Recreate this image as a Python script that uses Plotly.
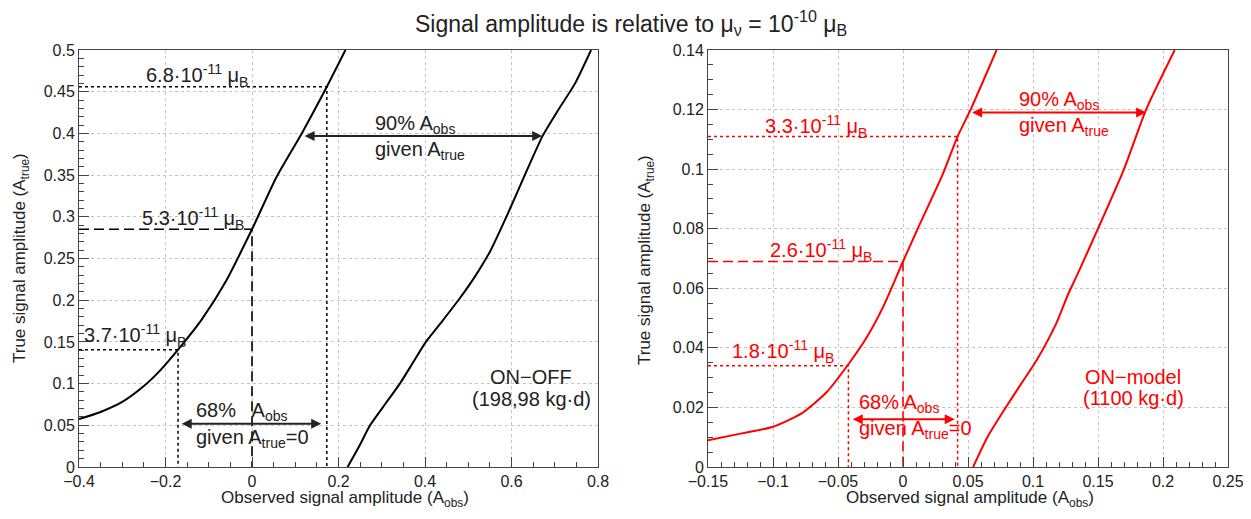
import plotly.graph_objects as go

FONT = "Liberation Sans, Arial, sans-serif"

# ---------------- data: ON-OFF (left panel, black) ----------------
onoff_lo_obs = [-0.4, -0.35, -0.3, -0.25, -0.21, -0.171, -0.116, -0.06, 0.0, 0.057, 0.115, 0.173, 0.216]
onoff_lo_true = [0.0574, 0.066, 0.078, 0.097, 0.117, 0.1406, 0.177, 0.223, 0.285, 0.348, 0.4, 0.456, 0.5]
onoff_hi_obs = [0.221, 0.25, 0.273, 0.31, 0.342, 0.372, 0.402, 0.44, 0.48, 0.515, 0.552, 0.59, 0.635, 0.672, 0.708, 0.747, 0.784]
onoff_hi_true = [0.0, 0.027, 0.05, 0.077, 0.1, 0.125, 0.15, 0.175, 0.202, 0.228, 0.26, 0.302, 0.355, 0.397, 0.428, 0.46, 0.5]
onoff_lim_true = [0.1406, 0.285, 0.456]
onoff_lim_obs = [-0.171, 0.0, 0.173]
onoff_lim_dash = ["dot", "10px,5px", "dot"]
onoff_lim_text = ["3.7·10<sup>-11</sup> μ<sub>B</sub>", "5.3·10<sup>-11</sup> μ<sub>B</sub>", "6.8·10<sup>-11</sup> μ<sub>B</sub>"]
onoff_lim_text_x = [-0.27, -0.136, -0.128]
onoff_lim_text_y = [0.158, 0.298, 0.47]
onoff_arrow90 = [0.118, 0.671, 0.397]   # x0, x1, y
onoff_arrow68 = [-0.166, 0.16, 0.052]

# ---------------- data: ON-model (right panel, red) ----------------
onmod_lo_obs = [-0.15, -0.125, -0.1, -0.078, -0.059, -0.042, -0.0275, -0.015, 0.0, 0.0107, 0.0306, 0.042, 0.052, 0.072]
onmod_lo_true = [0.009, 0.0112, 0.0135, 0.018, 0.025, 0.0345, 0.0438, 0.054, 0.069, 0.0794, 0.0983, 0.111, 0.12, 0.14]
onmod_hi_obs = [0.0539, 0.065, 0.079, 0.091, 0.103, 0.118, 0.127, 0.134, 0.15, 0.17, 0.187, 0.209]
onmod_hi_true = [0.0, 0.0101, 0.02, 0.028, 0.036, 0.0483, 0.058, 0.0645, 0.08, 0.1, 0.12, 0.14]
onmod_lim_true = [0.034, 0.069, 0.111]
onmod_lim_obs = [-0.042, 0.0, 0.042]
onmod_lim_dash = ["dot", "10px,5px", "dot"]
onmod_lim_text = ["1.8·10<sup>-11</sup> μ<sub>B</sub>", "2.6·10<sup>-11</sup> μ<sub>B</sub>", "3.3·10<sup>-11</sup> μ<sub>B</sub>"]
onmod_lim_text_x = [-0.092, -0.063, -0.067]
onmod_lim_text_y = [0.0388, 0.0727, 0.1143]
onmod_arrow90 = [0.052, 0.187, 0.119]
onmod_arrow68 = [-0.0398, 0.0398, 0.0160]

# page has an 8px body margin: draw in a figure 16px smaller, positions shifted by 8px
OFF = 8
W, H = 1251 - 2 * OFF, 519 - 2 * OFF
L1, R1 = 79, 598
L2, R2 = 708, 1228
TOP, BOT = 50, 467

def px(xp):
    return (xp - OFF) / W

def py(yp):
    return 1 - (yp - OFF) / H

fig = go.Figure()

def add_panel(xa, ya, color, lo_x, lo_y, hi_x, hi_y, lim_t, lim_o, lim_d, xmin):
    for xs, ys in ((lo_x, lo_y), (hi_x, hi_y)):
        fig.add_trace(go.Scatter(x=xs, y=ys, mode="lines",
                                 line=dict(color=color, width=2, shape="spline", smoothing=0.6),
                                 xaxis=xa, yaxis=ya, showlegend=False, hoverinfo="skip"))
    for t, o, d in zip(lim_t, lim_o, lim_d):
        w = 1.5 if d == "dot" else 1.6
        fig.add_trace(go.Scatter(x=[xmin, o, o], y=[t, t, 0], mode="lines",
                                 line=dict(color=color, width=w, dash=d),
                                 xaxis=xa, yaxis=ya, showlegend=False, hoverinfo="skip"))

add_panel("x", "y", "black", onoff_lo_obs, onoff_lo_true, onoff_hi_obs, onoff_hi_true,
          onoff_lim_true, onoff_lim_obs, onoff_lim_dash, -0.4)
add_panel("x2", "y2", "#ff0000", onmod_lo_obs, onmod_lo_true, onmod_hi_obs, onmod_hi_true,
          onmod_lim_true, onmod_lim_obs, onmod_lim_dash, -0.15)

ann = []
def txt(x, y, s, xref, yref, color, size=20, xanchor="center"):
    ann.append(dict(x=x, y=y, xref=xref, yref=yref, text=s, showarrow=False,
                    font=dict(family=FONT, size=size, color=color), xanchor=xanchor, yanchor="middle"))

def arrow(x0, x1, y, xref, yref, color):
    ann.append(dict(x=x1, y=y, ax=x0, ay=y, xref=xref, yref=yref, axref=xref, ayref=yref,
                    text="", showarrow=True, arrowhead=2, arrowside="end+start",
                    arrowsize=1, arrowwidth=2, arrowcolor=color))

# left panel texts
for s, x, y in zip(onoff_lim_text, onoff_lim_text_x, onoff_lim_text_y):
    txt(x, y, s, "x", "y", "#222")
arrow(*onoff_arrow90, "x", "y", "#222")
arrow(*onoff_arrow68, "x", "y", "#222")
txt(0.279, 0.411, "90% A<sub>obs</sub>", "x", "y", "#222", xanchor="left")
txt(0.279, 0.379, "given A<sub>true</sub>", "x", "y", "#222", xanchor="left")
txt(-0.134, 0.066, "68%   A<sub>obs</sub>", "x", "y", "#222", xanchor="left")
txt(-0.134, 0.034, "given A<sub>true</sub>=0", "x", "y", "#222", xanchor="left")
txt(0.646, 0.108, "ON−OFF", "x", "y", "#222")
txt(0.646, 0.082, "(198,98 kg·d)", "x", "y", "#222")

# right panel texts
RED = "#ff0000"
for s, x, y in zip(onmod_lim_text, onmod_lim_text_x, onmod_lim_text_y):
    txt(x, y, s, "x2", "y2", RED)
arrow(*onmod_arrow90, "x2", "y2", RED)
arrow(*onmod_arrow68, "x2", "y2", RED)
txt(0.088, 0.1229, "90% A<sub>obs</sub>", "x2", "y2", RED, xanchor="left")
txt(0.088, 0.1142, "given A<sub>true</sub>", "x2", "y2", RED, xanchor="left")
txt(-0.0352, 0.0213, "68% A<sub>obs</sub>", "x2", "y2", RED, xanchor="left")
txt(-0.0352, 0.0126, "given A<sub>true</sub>=0", "x2", "y2", RED, xanchor="left")
txt(0.177, 0.0303, "ON−model", "x2", "y2", RED)
txt(0.177, 0.0230, "(1100 kg·d)", "x2", "y2", RED)

# titles
def ptxt(xp, yp, s, size, angle=0):
    ann.append(dict(x=px(xp), y=py(yp), xref="paper", yref="paper", text=s, showarrow=False,
                    font=dict(family=FONT, size=size, color="#222"), textangle=angle,
                    xanchor="center", yanchor="middle"))

ptxt(631, 23, "Signal amplitude is relative to μ<sub>ν</sub> = 10<sup>-10</sup> μ<sub>B</sub>", 23)
ptxt(345, 499, "Observed signal amplitude (A<sub>obs</sub>)", 17)
ptxt(970, 499, "Observed signal amplitude (A<sub>obs</sub>)", 17)
ptxt(21, 258, "True signal amplitude (A<sub>true</sub>)", 17, -90)
ptxt(646, 260, "True signal amplitude (A<sub>true</sub>)", 17, -90)

def axis(dom, rng, dtick, mdtick, anchor):
    return dict(domain=dom, range=rng, dtick=dtick, tick0=0, anchor=anchor, automargin=False,
                showline=True, mirror=True, linecolor="#444", linewidth=1,
                ticks="inside", ticklen=10, tickcolor="#444", ticklabeloverflow="allow",
                showgrid=True, gridcolor="#c4c4c4", griddash="dot", gridwidth=1,
                zeroline=False, tickfont=dict(family=FONT, size=16, color="#222"),
                minor=dict(ticks="inside", ticklen=5, dtick=mdtick, tickcolor="#444", showgrid=False),
                fixedrange=True)

fig.update_layout(
    width=W, height=H, autosize=False,
    margin=dict(l=0, r=0, t=0, b=0),
    paper_bgcolor="white", plot_bgcolor="white",
    xaxis=axis([px(L1), px(R1)], [-0.4, 0.8], 0.2, 0.05, "y"),
    yaxis=axis([py(BOT), py(TOP)], [0, 0.5], 0.05, 0.01, "x"),
    xaxis2=axis([px(L2), px(R2)], [-0.15, 0.25], 0.05, 0.01, "y2"),
    yaxis2=axis([py(BOT), py(TOP)], [0, 0.14], 0.02, 0.005, "x2"),
    annotations=ann,
)

fig.write_html("out.html")
